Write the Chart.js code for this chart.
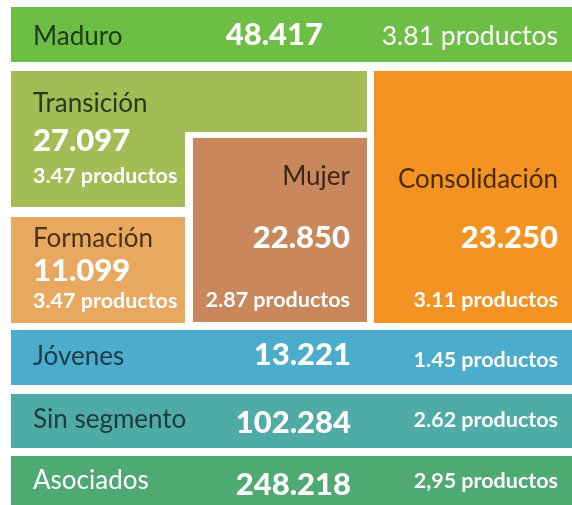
<!DOCTYPE html>
<html>
<head>
<meta charset="utf-8">
<script src="https://cdn.jsdelivr.net/npm/chart.js@4.4.1/dist/chart.umd.min.js"></script>
<style>
html,body{margin:0;padding:0;background:#fff;}
#wrap{width:572px;height:505px;position:relative;}
</style>
</head>
<body>
<div id="wrap"><canvas id="c"></canvas></div>
<script>
// ---- data ----
const categories = ['Maduro','Transición','Formación','Mujer','Consolidación','Jóvenes','Sin segmento','Asociados'];
const clients = [48417, 27097, 11099, 22850, 23250, 13221, 102284, 248218];
const productLabels = ['3.81 productos','3.47 productos','3.47 productos','2.87 productos','3.11 productos','1.45 productos','2.62 productos','2,95 productos'];

// ---- styles ----
const fillColors = ['#6dbe45','#a3bc55','#e9a85f','#c8885b','#f39321','#4badcb','#4eaba5','#4ea972'];
const labelColors = ['#1f3a18','#2a3719','#4a3218','#3a2518','#4a2a0c','#1d3a47','#1e3a3a','#ffffff'];

// ---- layout (axis units) : rectangles [x0,x1,yTop,yBottom] ----
const tiles = [
  [[11,572,7,62]],
  [[11,367,71,132],[11,185,132,207]],
  [[11,185,217,323]],
  [[193,367,138,322]],
  [[374,572,71,323]],
  [[11,572,330,385]],
  [[11,572,394,448]],
  [[11,572,456,505]]
];
// text anchors: [x, baseline, align]
const textPos = [
  {label:[33,45,'left'], value:[323,45,'right'], prod:[558,45,'right'], big:true},
  {label:[33,112,'left'], value:[33,151,'left'], prod:[33,183,'left']},
  {label:[33,247,'left'], value:[33,281,'left'], prod:[33,308,'left']},
  {label:[350,185,'right'], value:[350,248,'right'], prod:[350,307,'right']},
  {label:[558,188,'right'], value:[558,248,'right'], prod:[558,307,'right']},
  {label:[33,365,'left'], value:[351,365,'right'], prod:[558,367,'right']},
  {label:[33,428,'left'], value:[351,433,'right'], prod:[558,427,'right']},
  {label:[33,489,'left'], value:[351,495,'right'], prod:[558,488,'right']}
];

const fmt = n => n.toLocaleString('de-DE');

const datasets = [];
tiles.forEach((rects, i) => {
  rects.forEach(r => {
    datasets.push({
      label: categories[i],
      data: [{x:r[0], y:r[2]}, {x:r[1], y:r[2]}],
      fill: {value: r[3]},
      backgroundColor: fillColors[i],
      borderWidth: 0,
      borderColor: 'rgba(0,0,0,0)',
      pointRadius: 0,
      pointHoverRadius: 0,
      tension: 0
    });
  });
});

const FONT = 'Lato, "Open Sans", sans-serif';
const textPlugin = {
  id: 'tileText',
  afterDatasetsDraw(chart) {
    const {ctx, scales:{x, y}} = chart;
    ctx.save();
    ctx.textBaseline = 'alphabetic';
    textPos.forEach((p, i) => {
      // label
      ctx.fillStyle = labelColors[i];
      ctx.font = '400 26px ' + FONT;
      ctx.textAlign = p.label[2];
      ctx.fillText(categories[i], x.getPixelForValue(p.label[0]), y.getPixelForValue(p.label[1]));
      // value
      ctx.fillStyle = '#ffffff';
      ctx.font = '900 31px ' + FONT;
      ctx.textAlign = p.value[2];
      ctx.fillText(fmt(clients[i]), x.getPixelForValue(p.value[0]), y.getPixelForValue(p.value[1]));
      // products
      ctx.font = p.big ? '400 26.5px ' + FONT : '700 21.5px ' + FONT;
      ctx.textAlign = p.prod[2];
      ctx.fillText(productLabels[i], x.getPixelForValue(p.prod[0]), y.getPixelForValue(p.prod[1]));
    });
    ctx.restore();
  }
};

new Chart(document.getElementById('c'), {
  type: 'line',
  data: { datasets },
  options: {
    responsive: true,
    maintainAspectRatio: false,
    animation: false,
    layout: { padding: 0 },
    events: [],
    plugins: { legend: {display:false}, tooltip: {enabled:false}, filler: {propagate:false} },
    scales: {
      x: { type:'linear', min:0, max:572, display:false },
      y: { type:'linear', min:0, max:505, reverse:true, display:false }
    }
  },
  plugins: [textPlugin]
});
</script>
</body>
</html>
